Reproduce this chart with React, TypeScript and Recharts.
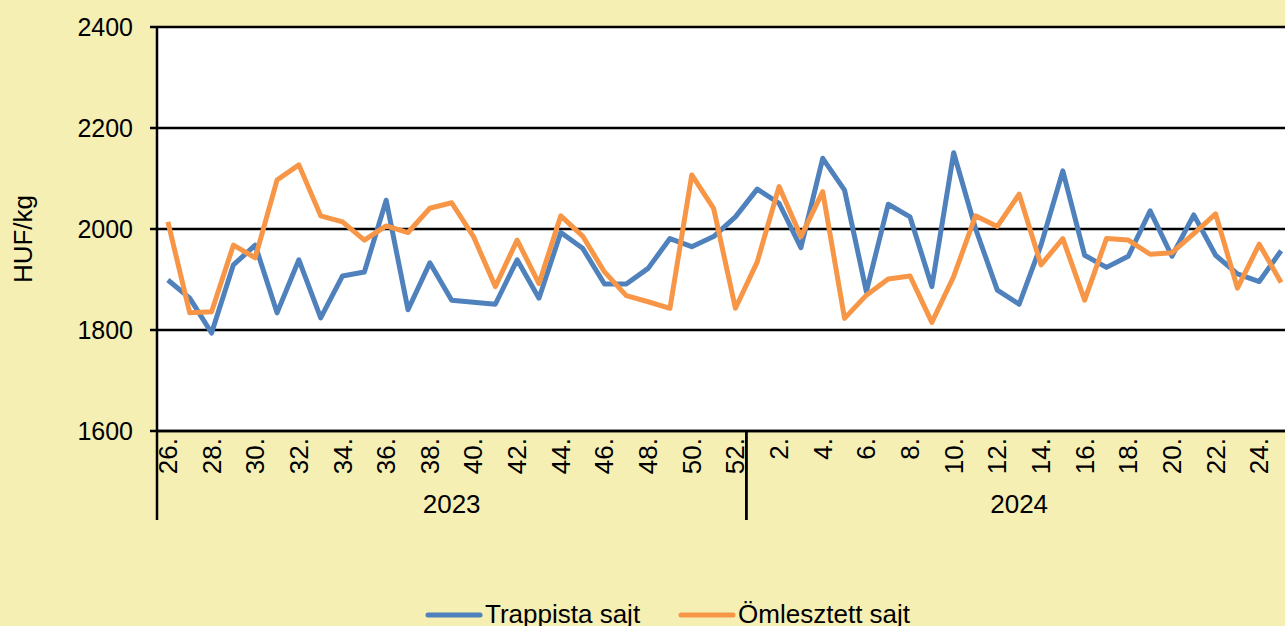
import { LineChart, Line, XAxis, YAxis, CartesianGrid, Legend } from "recharts";

// weekly consumer prices, HUF/kg
const weeks2023 = [
    "26.", "27.", "28.", "29.", "30.", "31.", "32.", "33.", "34.", "35.",
    "36.", "37.", "38.", "39.", "40.", "41.", "42.", "43.", "44.", "45.",
    "46.", "47.", "48.", "49.", "50.", "51.", "52.",
];
const weeks2024 = [
    "1.", "2.", "3.", "4.", "5.", "6.", "7.", "8.", "9.", "10.",
    "11.", "12.", "13.", "14.", "15.", "16.", "17.", "18.", "19.", "20.",
    "21.", "22.", "23.", "24.", "25.",
];
const years = ["2023", "2024"];

const trappista2023 = [
    1899, 1863, 1794, 1929, 1968, 1834, 1939, 1824, 1907, 1915,
    2057, 1840, 1933, 1859, 1855, 1851, 1939, 1863, 1993, 1962,
    1891, 1891, 1922, 1981, 1965, 1985, 2024,
];
const trappista2024 = [
    2079, 2051, 1963, 2140, 2077, 1876, 2049, 2024, 1886, 2151,
    2001, 1879, 1851, 1968, 2115, 1948, 1924, 1946, 2036, 1946,
    2028, 1948, 1911, 1896, 1957,
];
const omlesztett2023 = [
    2014, 1834, 1836, 1968, 1943, 2097, 2127, 2026, 2014, 1978,
    2006, 1993, 2041, 2052, 1985, 1886, 1978, 1892, 2026, 1986,
    1915, 1868, 1856, 1843, 2107, 2041, 1843,
];
const omlesztett2024 = [
    1935, 2084, 1985, 2074, 1823, 1869, 1901, 1907, 1815, 1906,
    2026, 2005, 2069, 1929, 1981, 1859, 1981, 1978, 1950, 1953,
    1991, 2030, 1883, 1970, 1894,
];
const yTicks = [1600, 1800, 2000, 2200, 2400];

const data = [
    ...weeks2023.map((week, i) => ({
        key: `${years[0]}-${week}`,
        week,
        year: years[0],
        trappista: trappista2023[i],
        omlesztett: omlesztett2023[i],
    })),
    ...weeks2024.map((week, i) => ({
        key: `${years[1]}-${week}`,
        week,
        year: years[1],
        trappista: trappista2024[i],
        omlesztett: omlesztett2024[i],
    })),
];

const CHART_W = 1292;
const CHART_H = 626;
const PLOT_LEFT = 157;
const BAND = (CHART_W - PLOT_LEFT) / data.length;
const FONT = '"Liberation Sans", Arial, sans-serif';

function WeekTick(props: any) {
    const { x, y, index } = props;
    const item = data[index];
    if (!item) return null;
    const left = x - BAND / 2;
    const isFirst = index === 0 || data[index - 1].year !== item.year;
    const isLast =
        index === data.length - 1 || data[index + 1].year !== item.year;
    const count = data.filter((d) => d.year === item.year).length;
    const ly = y + 7;

    return (
        <g>
            {index % 2 === 0 && (
                <text
                    x={x}
                    y={ly}
                    transform={`rotate(-90 ${x} ${ly})`}
                    textAnchor="end"
                    dominantBaseline="central"
                    fontSize={26}
                    fill="#000"
                >
                    {item.week}
                </text>
            )}
            {isFirst && (
                <>
                    <line x1={left} x2={left} y1={y} y2={y + 89} stroke="#000" strokeWidth={2.5} />
                    <text
                        x={left + (count * BAND) / 2}
                        y={y + 82}
                        textAnchor="middle"
                        fontSize={26}
                        fill="#000"
                    >
                        {item.year}
                    </text>
                </>
            )}
            {isLast && (
                <line
                    x1={x + BAND / 2}
                    x2={x + BAND / 2}
                    y1={y}
                    y2={y + 89}
                    stroke="#000"
                    strokeWidth={2.5}
                />
            )}
        </g>
    );
}

function YLabel() {
    return (
        <text
            x={32}
            y={239}
            transform="rotate(-90 32 239)"
            textAnchor="middle"
            fontSize={26}
            fill="#000"
        >
            HUF/kg
        </text>
    );
}

function LegendContent(props: any) {
    const { payload = [] } = props;
    return (
        <div style={{ display: "flex", alignItems: "center", whiteSpace: "nowrap" }}>
            {payload.map((entry: any, i: number) => (
                <div
                    key={entry.value}
                    style={{
                        display: "flex",
                        alignItems: "center",
                        marginLeft: i === 0 ? 0 : 38,
                    }}
                >
                    <svg width={58} height={8} style={{ marginRight: 2 }}>
                        <line
                            x1={3}
                            x2={55}
                            y1={4}
                            y2={4}
                            stroke={entry.color}
                            strokeWidth={5}
                            strokeLinecap="round"
                        />
                    </svg>
                    <span style={{ fontSize: 26, color: "#000" }}>{entry.value}</span>
                </div>
            ))}
        </div>
    );
}

export default function App() {
    return (
        <div
            style={{
                position: "absolute",
                left: 0,
                top: 0,
                width: 1285,
                height: 626,
                overflow: "hidden",
                background: "#F5EFB4",
                fontFamily: FONT,
            }}
        >
            <LineChart
                width={CHART_W}
                height={CHART_H}
                data={data}
                margin={{ top: 27, right: 0, bottom: 0, left: 0 }}
            >
                <CartesianGrid
                    vertical={false}
                    stroke="#000"
                    strokeWidth={2.5}
                    fill="#fff"
                    fillOpacity={1}
                />

                <XAxis
                    dataKey="key"
                    interval={0}
                    height={195}
                    padding={{ left: BAND / 2, right: BAND / 2 }}
                    tickLine={false}
                    tickSize={0}
                    tickMargin={0}
                    axisLine={{ stroke: "#000", strokeWidth: 2.5 }}
                    tick={<WeekTick />}
                />

                <YAxis
                    width={PLOT_LEFT}
                    domain={[1600, 2400]}
                    ticks={yTicks}
                    allowDataOverflow
                    tickSize={7}
                    tickMargin={17}
                    tickLine={{ stroke: "#000", strokeWidth: 2.5 }}
                    axisLine={{ stroke: "#000", strokeWidth: 2.5 }}
                    tick={{ fill: "#000", fontSize: 25 }}
                    label={<YLabel />}
                />

                <Legend
                    layout="horizontal"
                    verticalAlign="middle"
                    align="center"
                    wrapperStyle={{ position: "absolute", left: 425, top: 599, width: "auto" }}
                    content={<LegendContent />}
                />

                <Line
                    type="linear"
                    dataKey="trappista"
                    name="Trappista sajt"
                    stroke="#4F81BD"
                    strokeWidth={5}
                    strokeLinejoin="round"
                    dot={false}
                    activeDot={false}
                    isAnimationActive={false}
                />

                <Line
                    type="linear"
                    dataKey="omlesztett"
                    name="Ömlesztett sajt"
                    stroke="#F79646"
                    strokeWidth={5}
                    strokeLinejoin="round"
                    dot={false}
                    activeDot={false}
                    isAnimationActive={false}
                />
            </LineChart>
        </div>
    );
}
